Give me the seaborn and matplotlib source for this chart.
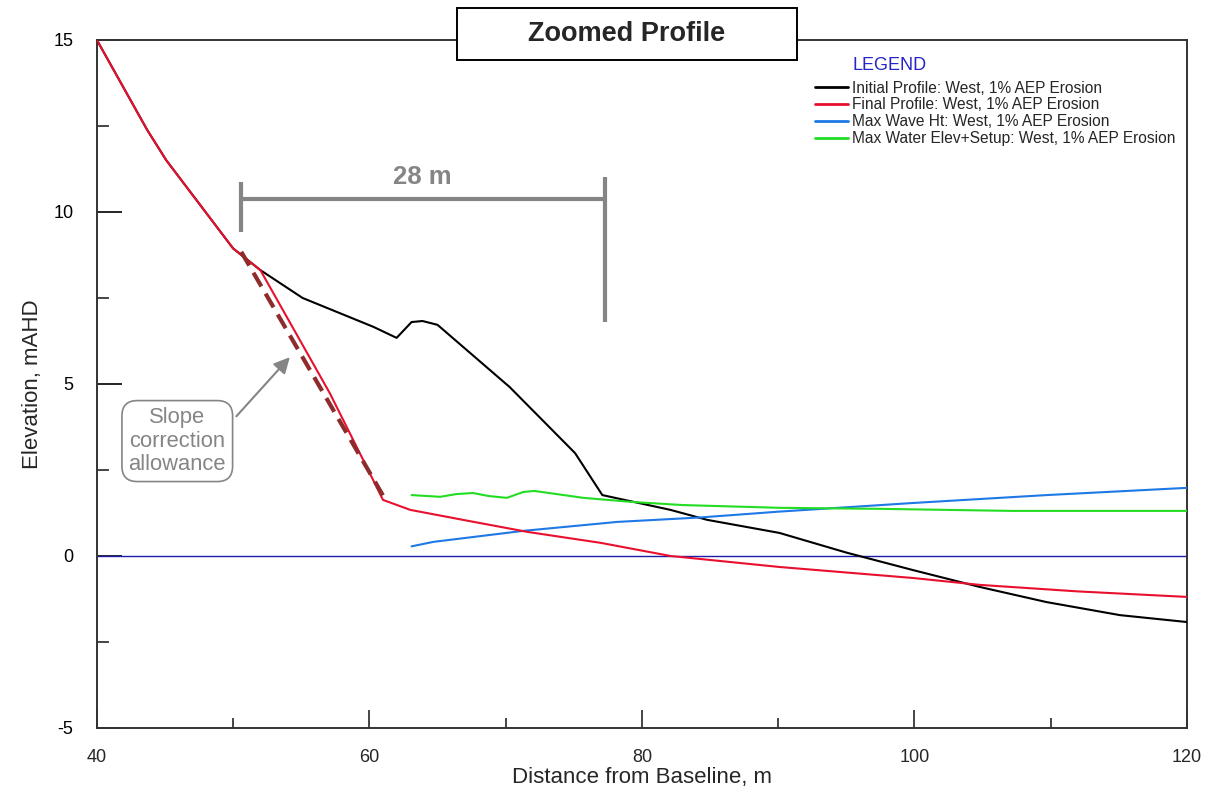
import matplotlib
matplotlib.use("Agg")
import matplotlib.pyplot as plt
from matplotlib.patches import Rectangle
from matplotlib.ticker import MultipleLocator
import seaborn as sns

# Profile data (distance m, elevation mAHD)
initial_x = [40, 43.7, 45.1, 50.0, 52.0, 55.1, 60.3, 62.0, 63.1, 63.9, 65.0, 70.3,
             75.1, 77.1, 82.1, 84.8, 90.1, 95.0, 99.9, 104.8, 109.7, 115.1, 120]
initial_y = [15.0, 12.38, 11.5, 8.94, 8.31, 7.5, 6.66, 6.34, 6.8, 6.83, 6.72, 4.91,
             2.99, 1.77, 1.34, 1.05, 0.67, 0.1, -0.41, -0.9, -1.34, -1.72, -1.92]

final_x = [40, 43.7, 45.1, 50.0, 52.0, 57.1, 59.6, 61.0, 63.0, 67.0, 71.6, 77.0,
           82.1, 90.1, 99.9, 104.8, 112.0, 120]
final_y = [15.0, 12.38, 11.5, 8.94, 8.31, 4.73, 2.75, 1.63, 1.34, 1.04, 0.70, 0.38,
           0.0, -0.32, -0.64, -0.84, -1.03, -1.19]

wave_x = [63.1, 64.7, 71.3, 78.2, 84.3, 90.1, 99.9, 109.7, 120]
wave_y = [0.28, 0.41, 0.73, 0.99, 1.12, 1.29, 1.54, 1.77, 1.98]

water_x = [63.1, 65.2, 66.4, 67.6, 68.8, 70.1, 71.3, 72.1, 73.2, 75.7, 79.3, 83.0,
           90.1, 97.5, 107.2, 120]
water_y = [1.77, 1.72, 1.80, 1.83, 1.74, 1.69, 1.86, 1.89, 1.83, 1.69, 1.57, 1.48,
           1.40, 1.37, 1.31, 1.31]

slope_x = [50.6, 61.1]
slope_y = [8.84, 1.69]

bar_x = [50.6, 77.3]
bar_y = 10.38
bar_label = "28 m"

series_labels = ["Initial Profile: West, 1% AEP Erosion",
                 "Final Profile: West, 1% AEP Erosion",
                 "Max Wave Ht: West, 1% AEP Erosion",
                 "Max Water Elev+Setup: West, 1% AEP Erosion"]

sns.set_theme(style="white")
plt.rcParams['font.family'] = ['Liberation Sans', 'DejaVu Sans']
plt.rcParams['axes.unicode_minus'] = False

fig = plt.figure(figsize=(12.11, 7.93), dpi=100)
ax = fig.add_axes([0.080, 0.082, 0.900, 0.8676])

ax.axhline(0, color='#1c1ca8', lw=1.0, zorder=1)

sns.lineplot(x=initial_x, y=initial_y, ax=ax, color='black', lw=1.5, label=series_labels[0], zorder=3)
sns.lineplot(x=final_x, y=final_y, ax=ax, color='#e8102e', lw=1.5, label=series_labels[1], zorder=4)
sns.lineplot(x=wave_x, y=wave_y, ax=ax, color='#1e78e6', lw=1.5, label=series_labels[2], zorder=3)
sns.lineplot(x=water_x, y=water_y, ax=ax, color='#22dd22', lw=1.5, label=series_labels[3], zorder=3)

# slope correction line
ax.plot(slope_x, slope_y, color='#8e2c2c', lw=3.0, ls=(0, (3.8, 2.0)), zorder=5)

# 28 m scale bar
grey = '#858585'
ax.plot(bar_x, [bar_y, bar_y], color=grey, lw=3, solid_capstyle='butt', zorder=5)
ax.plot([bar_x[0], bar_x[0]], [9.42, 10.87], color=grey, lw=3, solid_capstyle='butt', zorder=5)
ax.plot([bar_x[1], bar_x[1]], [6.80, 11.02], color=grey, lw=3, solid_capstyle='butt', zorder=5)
ax.text(63.9, 11.03, bar_label, color=grey, fontsize=18.5, fontweight='bold',
        ha='center', va='center')

# annotation box
ax.annotate('', xy=(54.3, 5.84), xytext=(50.1, 4.0),
            arrowprops=dict(arrowstyle='-|>', color=grey, lw=1.5, mutation_scale=24))
ax.text(45.9, 3.34, 'Slope\ncorrection\nallowance', color=grey, fontsize=15.8,
        ha='center', va='center', linespacing=1.15,
        bbox=dict(boxstyle='round,pad=0.3,rounding_size=0.7', fc='white', ec=grey, lw=1.2))

ax.set_xlim(40, 120)
ax.set_ylim(-5, 15)
ax.xaxis.set_major_locator(MultipleLocator(20))
ax.xaxis.set_minor_locator(MultipleLocator(10))
ax.yaxis.set_major_locator(MultipleLocator(5))
ax.yaxis.set_minor_locator(MultipleLocator(2.5))
ax.tick_params(axis='y', which='major', direction='in', length=18, width=1.2, pad=17,
               labelsize=13, left=True, colors='black')
ax.tick_params(axis='y', which='minor', direction='in', length=8.5, width=1.2, left=True)
ax.tick_params(axis='x', which='major', direction='in', length=13, width=1.2, pad=15,
               labelsize=13, bottom=True)
ax.tick_params(axis='x', which='minor', direction='in', length=7, width=1.2, bottom=True)
for s in ax.spines.values():
    s.set_color('#333333')
    s.set_linewidth(1.4)

ax.set_xlabel('Distance from Baseline, m', fontsize=16, labelpad=1)
ax.set_ylabel('Elevation, mAHD', fontsize=16, labelpad=7)

# legend
ax.text(0.6936, 0.9635, 'LEGEND', transform=ax.transAxes, color='#2424c8', fontsize=13,
        ha='left', va='center')
leg = ax.legend(loc='upper left', bbox_to_anchor=(0.6588, 0.941), frameon=False,
                fontsize=11.2, handlelength=2.1, handletextpad=0.3, labelspacing=0.12,
                borderpad=0, borderaxespad=0)
for line in leg.get_lines():
    line.set_linewidth(2)

# title box across the top spine
fig.patches.append(Rectangle((0.3774, 0.9243), 0.2808, 0.0656, transform=fig.transFigure,
                             fc='white', ec='black', lw=1.4, zorder=5))
fig.text(0.5178, 0.957, 'Zoomed Profile', fontsize=19.5, fontweight='bold',
         ha='center', va='center', zorder=6)

fig.savefig('out.png', dpi=100)
